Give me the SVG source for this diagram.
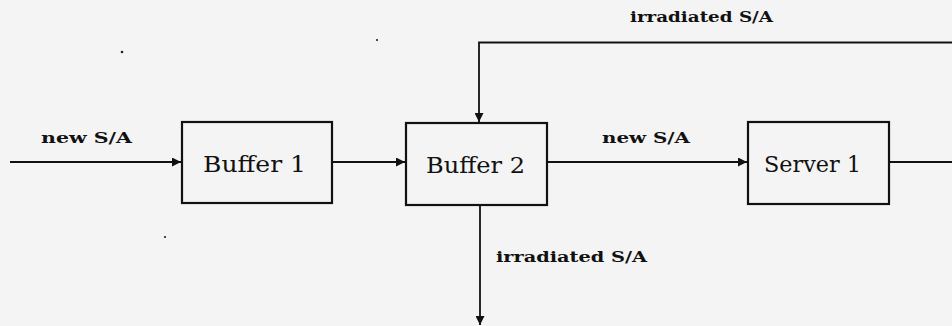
<svg xmlns="http://www.w3.org/2000/svg" width="952" height="326" viewBox="0 0 952 326">
  <style>
    .box { fill: none; stroke: #111; stroke-width: 2.2; }
    .wire { fill: none; stroke: #111; stroke-width: 1.8; }
    .name { font-family: "DejaVu Serif", "Liberation Serif", serif; font-size: 23px; fill: #111; }
    .lbl { font-family: "DejaVu Serif", "Liberation Serif", serif; font-size: 15px; font-weight: bold; fill: #111; }
  </style>
  <defs>
    <marker id="head" viewBox="0 0 10 10" refX="10" refY="5" markerWidth="9" markerHeight="9" markerUnits="userSpaceOnUse" orient="auto">
      <path d="M0,0 L10,5 L0,10 Z" fill="#111"/>
    </marker>
  </defs>
  <rect width="952" height="326" fill="#f4f4f4"/>

  <!-- specks -->
  <g fill="#222">
    <circle cx="122" cy="52" r="1.3"/>
    <circle cx="377" cy="40" r="1.1"/>
    <circle cx="165" cy="237" r="1.1"/>
  </g>

  <g id="connectors">
    <line class="wire" x1="10" y1="162" x2="181" y2="162" marker-end="url(#head)"/>
    <line class="wire" x1="332" y1="162" x2="405" y2="162" marker-end="url(#head)"/>
    <line class="wire" x1="547" y1="162" x2="747" y2="162" marker-end="url(#head)"/>
    <line class="wire" x1="889" y1="162" x2="952" y2="162"/>
    <polyline class="wire" points="952,42.5 479,42.5 479,122" marker-end="url(#head)"/>
    <line class="wire" x1="480" y1="205" x2="480" y2="325" marker-end="url(#head)"/>
    <text class="lbl" x="41" y="143" textLength="91" lengthAdjust="spacingAndGlyphs">new S/A</text>
    <text class="lbl" x="602" y="143" textLength="88" lengthAdjust="spacingAndGlyphs">new S/A</text>
    <text class="lbl" x="630" y="22" textLength="143" lengthAdjust="spacingAndGlyphs">irradiated S/A</text>
    <text class="lbl" x="496" y="262" textLength="151" lengthAdjust="spacingAndGlyphs">irradiated S/A</text>
  </g>

  <g id="buffer1">
    <rect class="box" x="182" y="122" width="150" height="81"/>
    <text class="name" x="203" y="172" textLength="103" lengthAdjust="spacingAndGlyphs">Buffer 1</text>
  </g>
  <g id="buffer2">
    <rect class="box" x="406" y="123" width="141" height="82"/>
    <text class="name" x="426" y="173" textLength="99" lengthAdjust="spacingAndGlyphs">Buffer 2</text>
  </g>
  <g id="server1">
    <rect class="box" x="748" y="122" width="141" height="82"/>
    <text class="name" x="764" y="172" textLength="97" lengthAdjust="spacingAndGlyphs">Server 1</text>
  </g>
</svg>
